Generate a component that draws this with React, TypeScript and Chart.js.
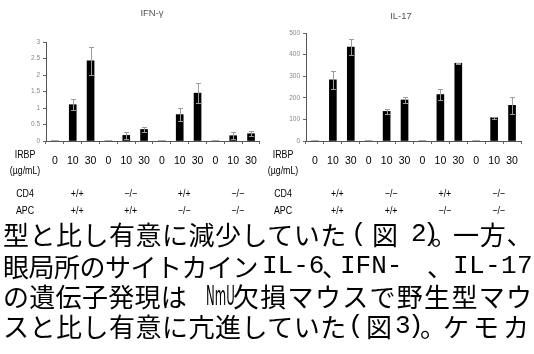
import React, { useEffect, useRef } from 'react';
import { Chart, registerables } from 'chart.js';

Chart.register(...registerables);

// ---- data ----
const irbpDoses = ['0', '10', '30', '0', '10', '30', '0', '10', '30', '0', '10', '30'];
const ifnValues = [0, 1.1, 2.43, 0, 0.17, 0.35, 0, 0.8, 1.45, 0, 0.16, 0.22];
const ifnErrors = [0, 0.17, 0.42, 0, 0.1, 0.08, 0, 0.2, 0.3, 0, 0.1, 0.08];
const il17Values = [0, 283, 435, 0, 137, 190, 0, 215, 360, 0, 108, 165];
const il17Errors = [0, 43, 35, 0, 13, 15, 0, 25, 3, 0, 5, 40];
const cd4Labels = ['+/+', '−/−', '+/+', '−/−'];
const apcLabels = ['+/+', '+/+', '−/−', '−/−'];
const ifnMax = 3;
const ifnStep = 0.5;
const il17Max = 500;
const il17Step = 100;

const SANS = '"Liberation Sans", Arial, sans-serif';

const errorBarPlugin = {
  id: 'errorBars',
  afterDatasetsDraw(chart: any, _args: any, opts: any) {
    const errs: number[] = opts.errors;
    if (!errs) return;
    const { ctx } = chart;
    const meta = chart.getDatasetMeta(0);
    const y = chart.scales.y;
    const data = chart.data.datasets[0].data as number[];
    ctx.save();
    ctx.strokeStyle = '#9c9c9c';
    ctx.lineWidth = 1;
    meta.data.forEach((bar: any, i: number) => {
      const e = errs[i];
      if (!e) return;
      const v = data[i];
      const x = Math.round(bar.x) + 0.5;
      const yt = Math.round(y.getPixelForValue(v + e)) + 0.5;
      const yb = Math.round(y.getPixelForValue(Math.max(v - e, 0))) + 0.5;
      ctx.beginPath();
      ctx.moveTo(x, yt);
      ctx.lineTo(x, yb);
      ctx.moveTo(x - 2.5, yt);
      ctx.lineTo(x + 2.5, yt);
      ctx.moveTo(x - 2.5, yb);
      ctx.lineTo(x + 2.5, yb);
      ctx.stroke();
    });
    ctx.restore();
  },
};

function narrowText(ctx: CanvasRenderingContext2D, t: string, x: number, y: number) {
  ctx.save();
  ctx.translate(x, y);
  ctx.scale(0.84, 1);
  ctx.fillText(t, 0, 0);
  ctx.restore();
}

const rowLabelPlugin = {
  id: 'rowLabels',
  afterDraw(chart: any, _args: any, opts: any) {
    const { ctx, chartArea } = chart;
    const x = chart.scales.x;
    ctx.save();
    ctx.fillStyle = '#000';
    ctx.textAlign = 'center';
    ctx.textBaseline = 'middle';
    ctx.font = '10.5px ' + SANS;
    const lx = chartArea.left + opts.labelDx;
    narrowText(ctx, 'IRBP', lx, 155);
    narrowText(ctx, '(µg/mL)', lx, 171);
    narrowText(ctx, 'CD4', lx, 194);
    narrowText(ctx, 'APC', lx, 211);
    cd4Labels.forEach((t, g) => {
      const gx = x.getPixelForValue(3 * g + 1) * 0.75 + x.getPixelForValue(3 * g + 2) * 0.25;
      narrowText(ctx, t, gx, 194);
      narrowText(ctx, apcLabels[g], gx, 211);
    });
    ctx.restore();
  },
};

function makeChart(
  canvas: HTMLCanvasElement,
  values: number[],
  errors: number[],
  max: number,
  step: number,
  yWidth: number,
  padRight: number,
  padTop: number,
  labelDx: number
) {
  return new Chart(canvas, {
    type: 'bar',
    data: {
      labels: irbpDoses,
      datasets: [
        {
          data: values,
          backgroundColor: '#000',
          borderWidth: 0,
          barThickness: 7,
        },
      ],
    },
    plugins: [errorBarPlugin, rowLabelPlugin],
    options: {
      animation: false,
      responsive: false,
      events: [],
      layout: { padding: { left: 0, right: padRight, top: padTop, bottom: 0 } },
      plugins: {
        legend: { display: false },
        tooltip: { enabled: false },
        title: { display: false },
        errorBars: { errors },
        rowLabels: { labelDx },
      } as any,
      scales: {
        x: {
          type: 'category',
          offset: true,
          grid: {
            display: true,
            drawOnChartArea: false,
            offset: true,
            tickLength: 3,
            color: '#666',
          },
          border: { color: '#555', width: 1 },
          ticks: {
            autoSkip: false,
            maxRotation: 0,
            color: '#000',
            font: { family: SANS, size: 10.5 },
            padding: 11,
          },
          afterFit: (s: any) => {
            s.height = 230 - 141;
          },
        },
        y: {
          min: 0,
          max,
          ticks: {
            stepSize: step,
            color: '#888',
            font: { family: SANS, size: 6.5 },
            padding: 3,
            callback: (v: any) => String(v),
          },
          grid: { drawOnChartArea: false, tickLength: 3, color: '#666' },
          border: { color: '#555', width: 1 },
          afterFit: (s: any) => {
            s.width = yWidth;
          },
        },
      },
    } as any,
  });
}

const cjk = '"Noto Sans CJK JP", "Noto Sans CJK SC", sans-serif';
const mono = '"Liberation Mono", "DejaVu Sans Mono", monospace';

function Chunk(props: { t: string; x: number; ls?: number; kind?: 'mono' | 'narrow' }) {
  const { t, x, ls, kind } = props;
  const style: React.CSSProperties = {
    position: 'absolute',
    left: x,
    top: 0,
    whiteSpace: 'pre',
    letterSpacing: ls ? ls : 0,
    fontFamily: kind === 'mono' ? mono : kind === 'narrow' ? '"DejaVu Sans Condensed", "DejaVu Sans", sans-serif' : cjk,
  };
  if (kind === 'narrow') {
    style.transform = 'scaleX(0.5)';
    style.transformOrigin = 'left top';
  }
  return <span style={style}>{t}</span>;
}

function Line(props: { top: number; children: React.ReactNode }) {
  return (
    <div
      style={{
        position: 'absolute',
        left: 0,
        top: props.top,
        width: 534,
        height: 26,
        fontSize: 26,
        lineHeight: '26px',
        color: '#000',
      }}
    >
      {props.children}
    </div>
  );
}

export default function App() {
  const leftRef = useRef<HTMLCanvasElement>(null);
  const rightRef = useRef<HTMLCanvasElement>(null);

  useEffect(() => {
    const c1 = makeChart(leftRef.current!, ifnValues, ifnErrors, ifnMax, ifnStep, 46, 3, 42, -21);
    const c2 = makeChart(rightRef.current!, il17Values, il17Errors, il17Max, il17Step, 38, 13, 33, -23);
    return () => {
      c1.destroy();
      c2.destroy();
    };
  }, []);

  const titleStyle: React.CSSProperties = {
    position: 'absolute',
    transform: 'translate(-50%, -50%)',
    fontFamily: SANS,
    fontSize: 9.5,
    color: '#555',
    whiteSpace: 'nowrap',
  };

  return (
    <div
      style={{
        position: 'fixed',
        left: 0,
        top: 0,
        width: 534,
        height: 354,
        background: '#fff',
        overflow: 'hidden',
      }}
    >
      <canvas
        ref={leftRef}
        width={268}
        height={230}
        style={{ position: 'absolute', left: 0, top: 0, width: 268, height: 230 }}
      />
      <canvas
        ref={rightRef}
        width={266}
        height={230}
        style={{ position: 'absolute', left: 268, top: 0, width: 266, height: 230 }}
      />
      <div style={{ ...titleStyle, left: 152, top: 12 }}>IFN-γ</div>
      <div style={{ ...titleStyle, left: 401, top: 15 }}>IL-17</div>

      <Line top={221}>
        <Chunk t="型と比し有意に減少していた" x={3} ls={0.5} />
        <Chunk t="(" x={351} kind="mono" />
        <Chunk t="図" x={372} />
        <Chunk t="2" x={411} kind="mono" />
        <Chunk t=")" x={423} kind="mono" />
        <Chunk t="。" x={431} />
        <Chunk t="一方、" x={453} ls={0.7} />
      </Line>
      <Line top={253}>
        <Chunk t="眼局所のサイトカイン" x={3} ls={-0.5} />
        <Chunk t="IL-6" x={262} kind="mono" />
        <Chunk t="、" x={322} />
        <Chunk t="IFN-" x={340} kind="mono" />
        <Chunk t="、" x={427} />
        <Chunk t="IL-17" x={453} ls={0.4} kind="mono" />
      </Line>
      <Line top={283}>
        <Chunk t="の遺伝子発現は" x={3} ls={0.3} />
        <Chunk t="NmU" x={206} kind="narrow" />
        <Chunk t="欠損マウスで野生型マウ" x={233} ls={1.3} />
      </Line>
      <Line top={313}>
        <Chunk t="スと比し有意に亢進していた" x={3} ls={0.5} />
        <Chunk t="(" x={348} kind="mono" />
        <Chunk t="図" x={366} />
        <Chunk t="3" x={395} kind="mono" />
        <Chunk t=")" x={408} kind="mono" />
        <Chunk t="。" x={420} />
        <Chunk t="ケモカ" x={443} ls={4} />
      </Line>
    </div>
  );
}
